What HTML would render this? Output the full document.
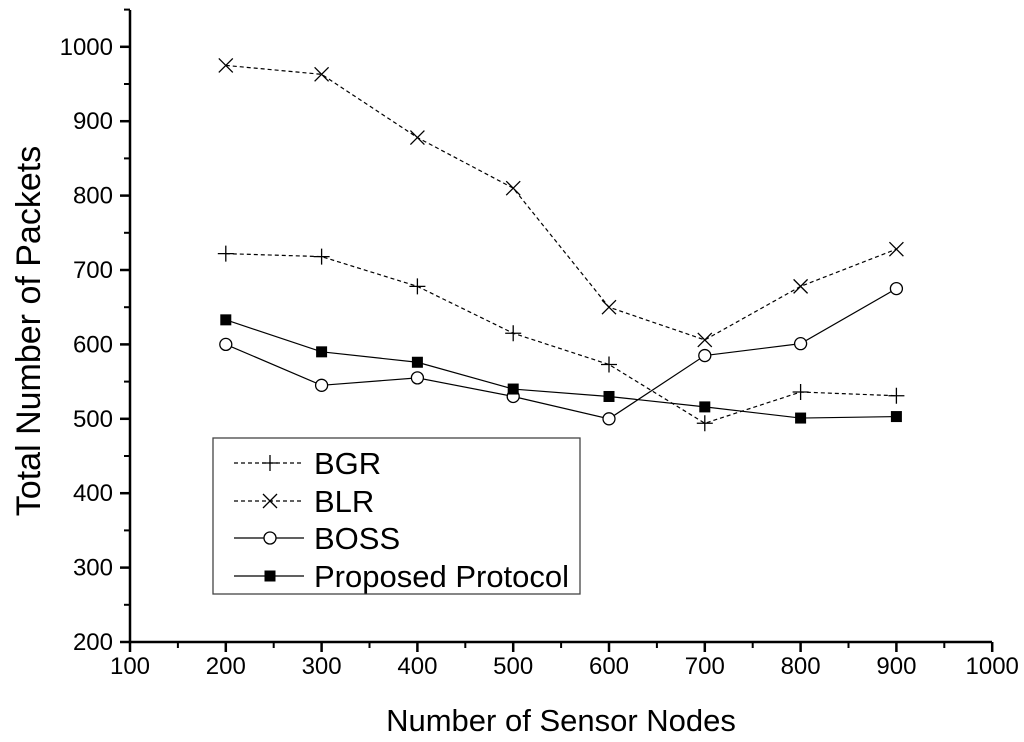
<!DOCTYPE html>
<html><head><meta charset="utf-8"><style>
body{margin:0;background:#fff}
svg{display:block;font-family:"Liberation Sans",Arial,sans-serif}
</style></head><body>
<svg id="chart" width="1024" height="742" viewBox="0 0 1024 742"></svg>
<script>
const categories=[200,300,400,500,600,700,800,900];
const bgr=[722,718,678,615,573,494,536,531];
const blr=[975,963,878,810,650,606,678,728];
const boss=[600,545,555,530,500,585,601,675];
const proposed=[633,590,576,540,530,516,501,503];
const xTicks=[100,200,300,400,500,600,700,800,900,1000];
const yTicks=[200,300,400,500,600,700,800,900,1000];
const seriesNames=["BGR","BLR","BOSS","Proposed Protocol"];

const NS="http://www.w3.org/2000/svg";
const svg=document.getElementById('chart');
const X=v=>130+(v-100)*0.958;
const Y=v=>642-(v-200)*0.744;
function el(t,a,p){const e=document.createElementNS(NS,t);for(const k in a)e.setAttribute(k,a[k]);(p||svg).appendChild(e);return e;}

const ax=el('path',{d:`M130 10 V642 H992`,stroke:'#000','stroke-width':2.5,fill:'none'});


xTicks.forEach((v,i)=>{
  const t=el('line',{x1:X(v),x2:X(v),y1:642,y2:652,stroke:'#000','stroke-width':2.5});
  
  
  if(i<xTicks.length-1){const m=el('line',{x1:X(v+50),x2:X(v+50),y1:642,y2:648,stroke:'#000','stroke-width':2});
    
    }
  const l=el('text',{x:X(v),y:674,'font-size':24,'text-anchor':'middle'});l.textContent=v;
  
  
});
yTicks.forEach(v=>{
  const t=el('line',{x1:120,x2:130,y1:Y(v),y2:Y(v),stroke:'#000','stroke-width':2.5});
  
  
  const m=el('line',{x1:124,x2:130,y1:Y(v+50),y2:Y(v+50),stroke:'#000','stroke-width':2});
  
  
  const l=el('text',{x:113,y:Y(v)+8,'font-size':24,'text-anchor':'end'});l.textContent=v;
  
  
});
const xt=el('text',{x:561,y:731,'font-size':31,'text-anchor':'middle'});xt.textContent='Number of Sensor Nodes';


const yt=el('text',{x:0,y:0,'font-size':34,'text-anchor':'middle',transform:'translate(40,331) rotate(-90)'});yt.textContent='Total Number of Packets';



function marker(type,x,y,g){
  if(type==='plus'){el('path',{d:`M${x-8} ${y}H${x+8}M${x} ${y-8}V${y+8}`,stroke:'#000','stroke-width':1.3,fill:'none'},g);}
  else if(type==='x'){el('path',{d:`M${x-7} ${y-7}L${x+7} ${y+7}M${x+7} ${y-7}L${x-7} ${y+7}`,stroke:'#000','stroke-width':1.3,fill:'none'},g);}
  else if(type==='circle'){el('circle',{cx:x,cy:y,r:6,fill:'#fff',stroke:'#000','stroke-width':1.3},g);}
  else {el('rect',{x:x-5.5,y:y-5.5,width:11,height:11,fill:'#000'},g);}
}
const series=[[bgr,'plus',true,'series-bgr'],[blr,'x',true,'series-blr'],[boss,'circle',false,'series-boss'],[proposed,'square',false,'series-proposed']];
series.forEach(([d,m,dash,name])=>{
  const g=el('g',{});
  
  
  const pts=d.map((v,i)=>X(categories[i])+','+Y(v)).join(' ');
  const a={points:pts,fill:'none',stroke:'#000','stroke-width':1.2};
  if(dash)a['stroke-dasharray']='4,3';
  el('polyline',a,g);
  d.forEach((v,i)=>marker(m,X(categories[i]),Y(v),g));
});

const lg=el('g',{});


el('rect',{x:213,y:438,width:367,height:156,fill:'#fff',stroke:'#444','stroke-width':1.3},lg);
const rowY=[463,501,538,576];
series.forEach(([d,m,dash,name],i)=>{
  const g=el('g',{},lg);
  
  
  const a={x1:234,x2:304,y1:rowY[i],y2:rowY[i],stroke:'#000','stroke-width':1.2};
  if(dash)a['stroke-dasharray']='4,3';
  el('line',a,g);
  marker(m,270,rowY[i],g);
  const t=el('text',{x:314,y:rowY[i]+11,'font-size':31},g);t.textContent=seriesNames[i];
});
</script>
</body></html>
